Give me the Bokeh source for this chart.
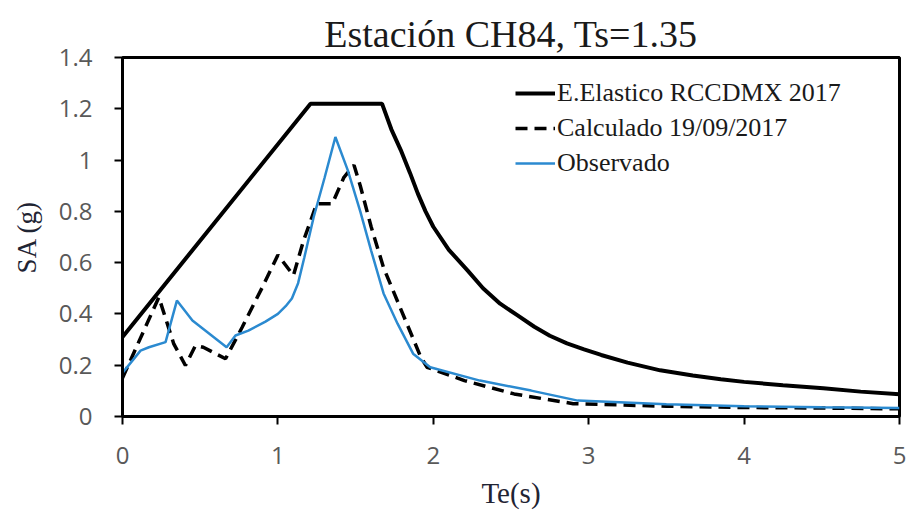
from bokeh.plotting import figure
from bokeh.models import FixedTicker, Legend, LegendItem
from bokeh.embed import file_html
from bokeh.resources import INLINE

# Periods (s) and spectral accelerations (g)
t_elastico = [0, 1.21, 1.67, 1.73, 1.79, 1.85, 1.90, 1.95, 2.0, 2.1, 2.22,
              2.32, 2.43, 2.54, 2.65, 2.75, 2.86, 2.97, 3.08, 3.25, 3.46,
              3.67, 3.85, 4.0, 4.25, 4.51, 4.75, 5.0]
sa_elastico = [0.31, 1.22, 1.22, 1.12, 1.04, 0.95, 0.87, 0.80, 0.74, 0.65,
               0.57, 0.50, 0.44, 0.395, 0.35, 0.315, 0.285, 0.262, 0.24,
               0.21, 0.18, 0.16, 0.145, 0.135, 0.122, 0.11, 0.097, 0.087]

t_calculado = [0, 0.234, 0.33, 0.405, 0.47, 0.52, 0.663, 0.77, 0.90, 1.0,
               1.10, 1.165, 1.25, 1.35, 1.425, 1.49, 1.53, 1.60, 1.68, 1.79,
               1.92, 1.96, 2.20, 2.52, 2.90, 3.5, 4.0, 4.5, 5.0]
sa_calculado = [0.15, 0.465, 0.283, 0.199, 0.277, 0.27, 0.225, 0.348, 0.504,
                0.63, 0.55, 0.686, 0.83, 0.83, 0.933, 0.98, 0.90, 0.74, 0.58,
                0.42, 0.231, 0.192, 0.14, 0.088, 0.05, 0.04, 0.035, 0.033,
                0.03]

t_observado = [0, 0.116, 0.17, 0.277, 0.35, 0.45, 0.67, 0.727, 0.81, 0.92,
               1.0, 1.05, 1.09, 1.13, 1.17, 1.23, 1.30, 1.37, 1.45, 1.53,
               1.60, 1.68, 1.77, 1.87, 1.98, 2.30, 2.63, 2.93, 3.5, 4.0,
               4.5, 5.0]
sa_observado = [0.17, 0.257, 0.27, 0.29, 0.452, 0.374, 0.27, 0.316, 0.335,
                0.37, 0.40, 0.43, 0.46, 0.52, 0.62, 0.777, 0.93, 1.09, 0.96,
                0.80, 0.647, 0.48, 0.362, 0.245, 0.192, 0.14, 0.101, 0.062,
                0.048, 0.04, 0.036, 0.033]

x_ticks = [0, 1, 2, 3, 4, 5]
x_tick_labels = ["0", "1", "2", "3", "4", "5"]
y_ticks = [0, 0.2, 0.4, 0.6, 0.8, 1.0, 1.2, 1.4]
y_tick_labels = ["0", "0.2", "0.4", "0.6", "0.8", "1", "1.2", "1.4"]

labels = ["E.Elastico RCCDMX 2017", "Calculado 19/09/2017", "Observado"]

SERIF = "Liberation Serif"
SANS = "Open Sans"

p = figure(width=909, height=514, x_range=(0, 5), y_range=(0, 1.4),
           output_backend="svg", toolbar_location=None,
           min_border_left=122, min_border_right=10,
           min_border_top=57, min_border_bottom=98)

p.title.text = "Estación CH84, Ts=1.35"
p.title.align = "center"
p.title.text_font = SERIF
p.title.text_font_size = "38px"
p.title.text_font_style = "normal"
p.title.text_color = "#1a1a1a"
p.title.standoff = 6

p.xgrid.visible = False
p.ygrid.visible = False
p.outline_line_color = "black"
p.outline_line_width = 3
p.background_fill_color = "white"
p.border_fill_color = "white"

for ax in (p.xaxis[0], p.yaxis[0]):
    ax.axis_line_width = 3
    ax.axis_line_color = "black"
    ax.major_tick_line_width = 2
    ax.major_tick_line_color = "black"
    ax.major_tick_in = 0
    ax.major_tick_out = 8
    ax.minor_tick_line_color = None
    ax.major_label_text_font = SANS
    ax.major_label_text_font_size = "24px"
    ax.major_label_text_color = "#595959"
    ax.major_label_standoff = 22
    ax.axis_label_text_font = SERIF
    ax.axis_label_text_font_style = "normal"
    ax.axis_label_text_color = "#1f2433"

p.xaxis.ticker = FixedTicker(ticks=x_ticks)
p.xaxis.major_label_overrides = dict(zip(x_ticks, x_tick_labels))
p.yaxis.ticker = FixedTicker(ticks=y_ticks)
p.yaxis.major_label_overrides = dict(zip(y_ticks, y_tick_labels))

p.xaxis.axis_label = "Te(s)"
p.xaxis.axis_label_text_font_size = "29px"
p.xaxis.axis_label_standoff = 10
p.yaxis.axis_label = "SA (g)"
p.yaxis.axis_label_text_font_size = "27px"
p.yaxis.axis_label_standoff = 14

r_el = p.line(t_elastico, sa_elastico, line_color="black", line_width=4)
r_ca = p.line(t_calculado, sa_calculado, line_color="black", line_width=3.5,
              line_dash="12 7")
r_ob = p.line(t_observado, sa_observado, line_color="#2b8ad0", line_width=2.5)

legend = Legend(items=[LegendItem(label=labels[0], renderers=[r_el]),
                       LegendItem(label=labels[1], renderers=[r_ca]),
                       LegendItem(label=labels[2], renderers=[r_ob])],
                location=(393, 238))
legend.border_line_color = None
legend.background_fill_alpha = 0
legend.padding = 0
legend.margin = 0
legend.spacing = 5
legend.glyph_width = 40
legend.glyph_height = 30
legend.label_height = 30
legend.label_standoff = 2
legend.label_text_font = SERIF
legend.label_text_font_size = "26px"
legend.label_text_color = "#1a1a1a"
p.add_layout(legend, "center")

open("out.html", "w").write(file_html(p, INLINE))
